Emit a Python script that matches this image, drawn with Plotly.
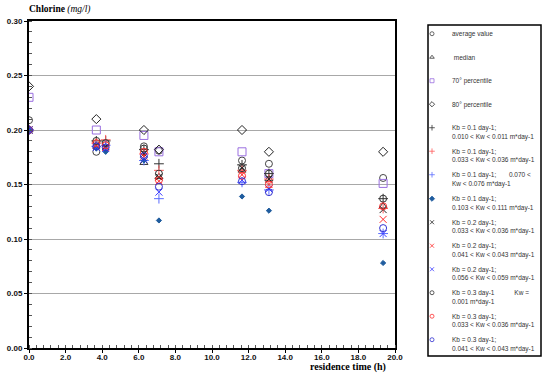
import plotly.graph_objects as go

# residence times (h)
times = [0.0, 3.68, 4.19, 6.28, 7.10, 11.64, 13.11, 19.35]

# observed statistics (None where no observation)
avg_value = [0.209, 0.180, None, 0.185, 0.181, 0.172, 0.169, 0.156]
median_value = [0.200, 0.186, None, 0.170, 0.157, 0.163, 0.155, 0.130]
p70_value = [0.230, 0.200, None, 0.195, 0.180, 0.180, 0.160, 0.151]
p80_value = [0.240, 0.210, None, 0.200, 0.182, 0.200, 0.180, 0.180]

# model results
kb01_kw0010 = [0.200, 0.190, 0.190, 0.182, 0.169, 0.168, 0.160, 0.137]
kb01_kw0033 = [0.200, 0.188, 0.191, 0.178, 0.163, 0.163, 0.155, 0.128]
kb01_kw0070 = [0.200, 0.185, 0.186, 0.172, 0.137, 0.152, 0.145, 0.105]
kb01_kw0103 = [0.200, 0.183, 0.180, 0.172, 0.117, 0.139, 0.126, 0.078]
kb02_kw0033 = [0.200, 0.186, 0.185, 0.178, 0.157, 0.165, 0.155, 0.127]
kb02_kw0041 = [0.200, 0.186, 0.184, 0.176, 0.153, 0.159, 0.150, 0.118]
kb02_kw0056 = [0.200, 0.184, 0.183, 0.173, 0.143, 0.154, 0.146, 0.105]
kb03_kw0001 = [0.200, 0.190, 0.188, 0.183, 0.160, 0.165, 0.160, 0.137]
kb03_kw0033 = [0.200, 0.188, 0.186, 0.180, 0.154, 0.158, 0.150, 0.130]
kb03_kw0041 = [0.200, 0.185, 0.184, 0.176, 0.148, 0.153, 0.143, 0.110]

y_ticks = [0.0, 0.05, 0.10, 0.15, 0.20, 0.25, 0.30]
x_ticks = [0, 2, 4, 6, 8, 10, 12, 14, 16, 18, 20]

N = "&nbsp;"
series = [
    ("average value<br> ", avg_value, "circle-open", "#444444", 7),
    ("&nbsp;median<br> ", median_value, "triangle-up-open", "#333333", 7),
    ("70° percentile<br> ", p70_value, "square-open", "#9a6fe0", 8),
    ("80° percentile<br> ", p80_value, "diamond-open", "#222222", 7),
    ("Kb = 0.1 day-1;<br>0.010 &lt; Kw &lt; 0.011 m*day-1", kb01_kw0010, "cross-thin-open", "#333333", 7),
    ("Kb = 0.1 day-1;<br>0.033 &lt; Kw &lt; 0.036 m*day-1", kb01_kw0033, "cross-thin-open", "#ff5a5a", 7),
    ("Kb = 0.1 day-1;" + N * 7 + "0.070 &lt;<br>Kw &lt; 0.076 m*day-1", kb01_kw0070, "cross-thin-open", "#5a6cff", 7),
    ("Kb = 0.1 day-1;<br>0.103 &lt; Kw &lt; 0.111 m*day-1", kb01_kw0103, "diamond", "#1f5c9e", 4),
    ("Kb = 0.2 day-1;<br>0.033 &lt; Kw &lt; 0.036 m*day-1", kb02_kw0033, "x-thin-open", "#222222", 7),
    ("Kb = 0.2 day-1;<br>0.041 &lt; Kw &lt; 0.043 m*day-1", kb02_kw0041, "x-thin-open", "#ff2a2a", 7),
    ("Kb = 0.2 day-1;<br>0.056 &lt; Kw &lt; 0.059 m*day-1", kb02_kw0056, "x-thin-open", "#3a3aff", 7),
    ("Kb = 0.3 day-1" + N * 11 + "Kw =<br>0.001 m*day-1", kb03_kw0001, "circle-open", "#333333", 7),
    ("Kb = 0.3 day-1;<br>0.033 &lt; Kw &lt; 0.036 m*day-1", kb03_kw0033, "circle-open", "#ff3030", 7),
    ("Kb = 0.3 day-1;<br>0.041 &lt; Kw &lt; 0.043 m*day-1", kb03_kw0041, "circle-open", "#3030d0", 7),
]

fig = go.Figure()
for i, (name, vals, sym, col, sz) in enumerate(series):
    leg = "legend" if i < 7 else "legend2"
    # data trace
    fig.add_trace(go.Scatter(
        x=times, y=vals, mode="markers", name=name, legendgroup=f"g{i}", showlegend=False,
        marker=dict(symbol=sym, color=col, size=sz, line=dict(color=col, width=1)),
    ))
    # legend entry with small symbol
    fig.add_trace(go.Scatter(
        x=[None], y=[None], mode="markers", name=name, legendgroup=f"g{i}", showlegend=True,
        legend=leg,
        marker=dict(symbol=sym, color=col, size=4, line=dict(color=col, width=0.8)),
        hoverinfo="skip",
    ))

axis_font = dict(family="Liberation Sans", size=8, color="#111111", weight="bold")
PW, PH, L0, T0 = 366, 327, 29, 348  # plot width/height, left px, bottom px


def px_x(px):
    return (px - L0) / PW


def px_y(py):
    return (T0 - py) / PH


legend_common = dict(
    xanchor="left", yanchor="top", borderwidth=0, bgcolor="rgba(0,0,0,0)",
    font=dict(family="Liberation Sans", size=6.5, color="#333333"),
    tracegroupgap=3.6, valign="top", itemclick=False, itemdoubleclick=False,
)

fig.update_layout(
    width=550, height=375,
    margin=dict(l=29, r=155, t=21, b=27, autoexpand=False),
    paper_bgcolor="white", plot_bgcolor="white",
    showlegend=True,
    legend=dict(x=px_x(412), y=px_y(23), **legend_common),
    legend2=dict(x=px_x(412), y=px_y(188), **legend_common),
    xaxis=dict(
        range=[0, 20], tickvals=x_ticks, ticktext=[f"{v:.1f}" for v in x_ticks],
        showgrid=False, zeroline=False,
        showline=True, linecolor="black", linewidth=2, mirror=True,
        ticks="outside", ticklen=3, tickcolor="black",
        minor=dict(dtick=0.4, ticks="inside", ticklen=3, tickcolor="#555555"),
        tickfont=axis_font, automargin=False, ticklabelstandoff=-3,
    ),
    yaxis=dict(
        range=[0, 0.3], tickvals=y_ticks, ticktext=[f"{v:.2f}" for v in y_ticks],
        showgrid=True, gridcolor="#a8a8a8", gridwidth=1, zeroline=False,
        showline=True, linecolor="black", linewidth=2, mirror=True,
        ticks="outside", ticklen=3, tickcolor="black",
        minor=dict(dtick=0.01, ticks="inside", ticklen=3, tickcolor="#555555"),
        tickfont=axis_font, automargin=False,
    ),
    shapes=[
        dict(type="rect", xref="paper", yref="paper",
             x0=px_x(428), x1=px_x(541), y0=px_y(356), y1=px_y(25),
             line=dict(color="black", width=1.5), fillcolor="rgba(0,0,0,0)"),
    ],
    annotations=[
        dict(text="<b>Chlorine</b> <i>(mg/l)</i>", xref="paper", yref="paper",
             x=px_x(27), y=px_y(10), xanchor="left", yanchor="middle",
             showarrow=False, font=dict(family="Liberation Serif", size=9.5, color="black")),
        dict(text="<b>residence time (h)</b>", xref="paper", yref="paper",
             x=px_x(388), y=px_y(367), xanchor="right", yanchor="middle",
             showarrow=False, font=dict(family="Liberation Serif", size=10, color="black")),
    ],
)

fig.write_html(
    "out.html",
    config={"displayModeBar": False},
    post_script="document.body.style.margin='0';document.body.style.padding='0';",
)
